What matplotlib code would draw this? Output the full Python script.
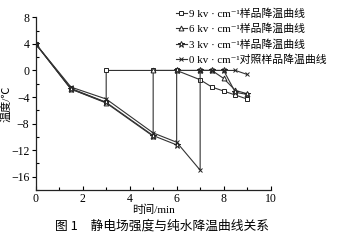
import matplotlib
matplotlib.use("Agg")
import matplotlib.pyplot as plt
from matplotlib.ticker import MultipleLocator

plt.rcParams['font.family'] = ['Liberation Serif', 'DejaVu Serif', 'Noto Sans CJK SC']

# Data
x_9kv = [0, 1.5, 3, 3, 5, 6, 7, 7.5, 8, 8.5, 9]
y_9kv = [4, -2.7, -4.8, 0, 0, 0, -1.4, -2.5, -3.1, -3.7, -4.3]
x_6kv = [0, 1.5, 3, 5, 5, 6, 7, 7.5, 8, 8.5, 9]
y_6kv = [4, -2.8, -4.9, -9.9, 0, 0, 0, 0, -1.2, -3.0, -3.5]
x_3kv = [0, 1.5, 3, 5, 6, 6, 7, 7.5, 8, 8.5, 9]
y_3kv = [4, -2.8, -4.8, -9.8, -11.2, 0, 0, 0, 0, -3.3, -3.6]
x_0kv = [0, 1.5, 3, 5, 6, 7, 7, 7.5, 8, 8.5, 9]
y_0kv = [4, -2.5, -4.3, -9.4, -10.8, -15, 0, 0, 0, 0, -0.6]

labels = ["9 kv · cm⁻¹样品降温曲线",
          "6 kv · cm⁻¹样品降温曲线",
          "3 kv · cm⁻¹样品降温曲线",
          "0 kv · cm⁻¹对照样品降温曲线"]

fig = plt.figure(figsize=(3.37, 2.40), dpi=100)
ax = fig.add_axes([0.106, 0.208, 0.697, 0.72])

lc = '#333333'
base = dict(color=lc, lw=0.8, markerfacecolor='white',
            markeredgecolor='#222222', markeredgewidth=0.7)
l1, = ax.plot(x_9kv, y_9kv, marker='s', markersize=3, **base)
l2, = ax.plot(x_6kv, y_6kv, marker='^', markersize=3.5, **base)
l3, = ax.plot(x_3kv, y_3kv, marker='*', markersize=4.5, **base)
l4, = ax.plot(x_0kv, y_0kv, marker='x', markersize=3.5, **base)

ax.set_xlim(0, 10)
ax.set_ylim(-18, 8)
ax.xaxis.set_major_locator(MultipleLocator(2))
ax.xaxis.set_minor_locator(MultipleLocator(1))
ax.yaxis.set_minor_locator(MultipleLocator(2))
ax.set_yticks([8, 4, 0, -4, -8, -12, -16])
ax.set_yticklabels(['8', '4', '0', '−4', '−8', '−12', '−16'])
ax.tick_params(axis='x', which='major', direction='in', length=3, width=0.8, labelsize=8.5, pad=2)
ax.tick_params(axis='x', which='minor', direction='in', length=2, width=0.8)
ax.tick_params(axis='y', which='major', direction='out', length=3, width=0.8, labelsize=8.5, pad=1.5)
ax.tick_params(axis='y', which='minor', direction='in', length=2, width=0.8)
for s in ['top', 'right']:
    ax.spines[s].set_visible(False)
for s in ['left', 'bottom']:
    ax.spines[s].set_linewidth(0.9)
    ax.spines[s].set_color('#222222')

ax.set_xlabel("时间/min", fontsize=8, labelpad=0, family=['Liberation Serif', 'Noto Sans CJK SC'])
ax.set_ylabel("温度/℃", fontsize=8, labelpad=0, family=['Liberation Serif', 'Noto Sans CJK SC'])

leg = fig.legend([l1, l2, l3, l4], labels, loc='upper left', bbox_to_anchor=(0.515, 0.975),
                 frameon=False, fontsize=7.8, handlelength=1.0, handletextpad=0.2,
                 labelspacing=0.45, borderaxespad=0, borderpad=0.2)

fig.text(0.48, 0.058, "图 1　静电场强度与纯水降温曲线关系", ha='center', va='center',
         fontsize=9.2, family=['Noto Sans CJK SC'])

fig.savefig("out.png", dpi=100)
